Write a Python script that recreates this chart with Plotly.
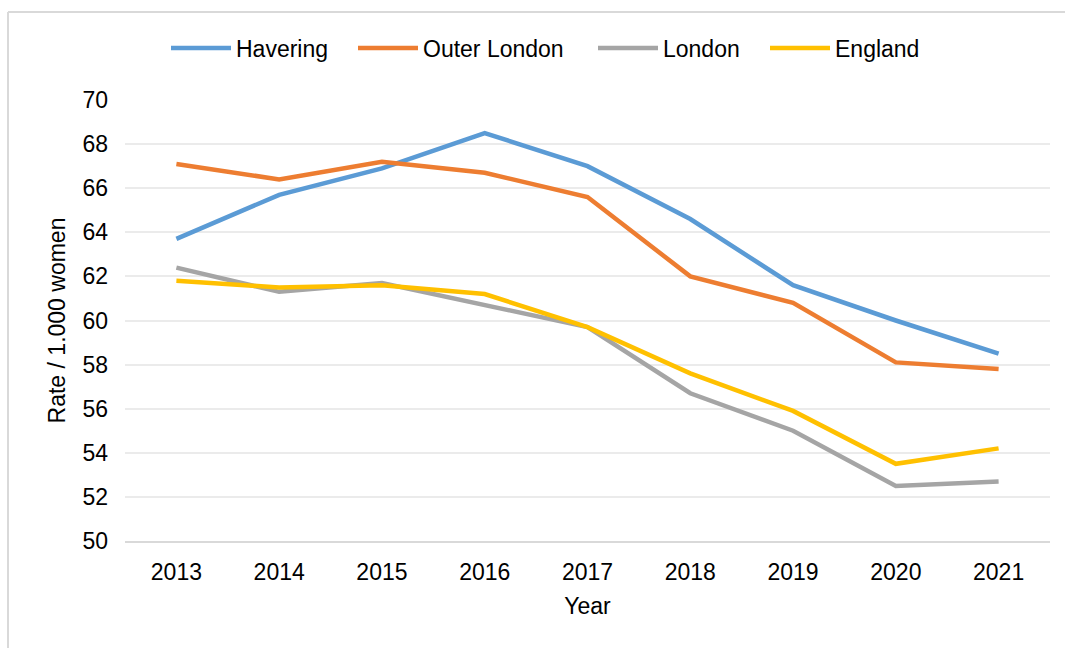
import plotly.graph_objects as go

years = ["2013", "2014", "2015", "2016", "2017", "2018", "2019", "2020", "2021"]
havering = [63.7, 65.7, 66.9, 68.5, 67.0, 64.6, 61.6, 60.0, 58.5]
outer_london = [67.1, 66.4, 67.2, 66.7, 65.6, 62.0, 60.8, 58.1, 57.8]
london = [62.4, 61.3, 61.7, 60.7, 59.7, 56.7, 55.0, 52.5, 52.7]
england = [61.8, 61.5, 61.6, 61.2, 59.7, 57.6, 55.9, 53.5, 54.2]

series = [
    ("Havering", havering, "#5B9BD5"),
    ("Outer London", outer_london, "#ED7D31"),
    ("London", london, "#A5A5A5"),
    ("England", england, "#FFC000"),
]

L, R, T, B = 125, 15, 100, 107
W, H = 1065, 648
pw, ph = W - L - R, H - T - B

def px(x):
    return (x - L) / pw

def py(y):
    return (H - B - y) / ph

FS = 23
# left edge of each legend text in the reference
text_starts = [236, 423, 663, 835]
legend_names = ["legend", "legend2", "legend3", "legend4"]

fig = go.Figure()
for (name, vals, color), lg in zip(series, legend_names):
    fig.add_trace(go.Scatter(x=years, y=vals, name=name, mode="lines", legend=lg,
                             showlegend=True, line=dict(color=color, width=4.5)))

legend_layout = {}
for lg, ts in zip(legend_names, text_starts):
    legend_layout[lg] = dict(orientation="h", x=px(ts - 70), xanchor="left", y=py(48), yanchor="middle",
                             font=dict(size=FS), itemwidth=60, bgcolor="rgba(0,0,0,0)")

fig.update_layout(
    width=W, height=H,
    showlegend=True,
    margin=dict(l=L, r=R, t=T, b=B),
    paper_bgcolor="white", plot_bgcolor="white",
    font=dict(family="Liberation Sans, Arial, sans-serif", size=FS, color="#000000"),
    xaxis=dict(type="category", range=[-0.5, 8.5], showgrid=False,
               showline=True, linecolor="#D9D9D9", linewidth=2,
               ticks="", ticklabelstandoff=9,
               title=dict(text="Year", standoff=14, font=dict(size=FS))),
    yaxis=dict(range=[50, 70], dtick=2, showgrid=True, gridcolor="#EBEBEB", gridwidth=1.5,
               zeroline=False, showline=False, ticks="", ticklabelstandoff=16,
               title=dict(text="Rate / 1.000 women", standoff=10, font=dict(size=FS))),
    shapes=[
        dict(type="line", xref="paper", yref="paper", x0=px(8), x1=px(8), y0=py(12), y1=py(660),
             line=dict(color="#D9D9D9", width=2)),
        dict(type="line", xref="paper", yref="paper", x0=px(8), x1=px(1070), y0=py(12), y1=py(12),
             line=dict(color="#D9D9D9", width=2)),
    ],
    **legend_layout,
)

fig.write_html("out.html", config={"displayModeBar": False},
               post_script="document.body.style.margin='0';document.body.style.overflow='hidden';")
